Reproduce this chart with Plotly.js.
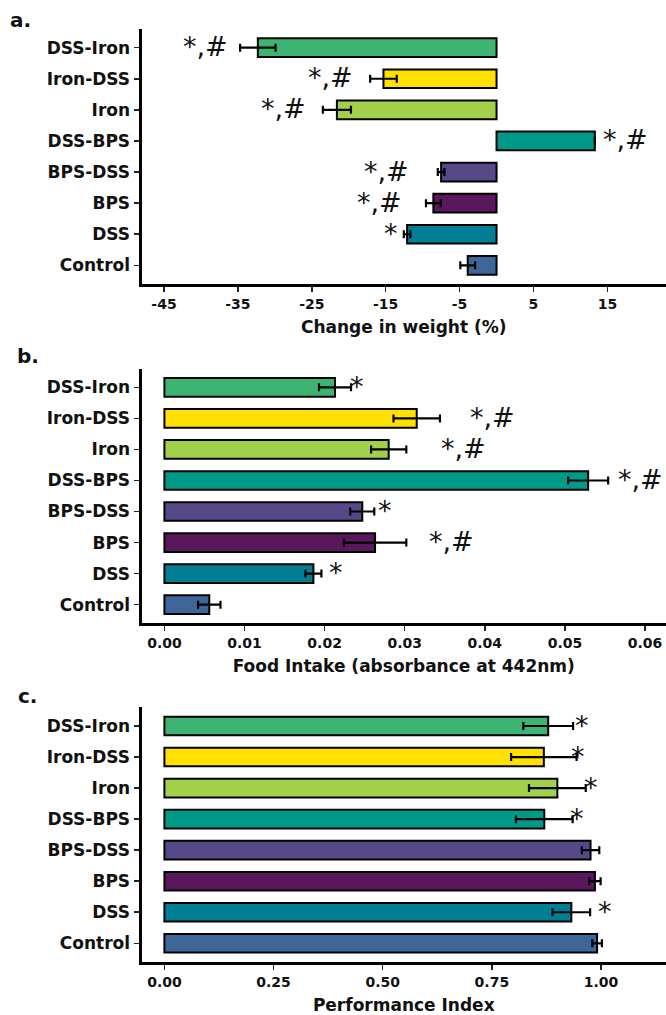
<!DOCTYPE html>
<html>
<head>
<meta charset="utf-8">
<script src="https://cdn.plot.ly/plotly-3.0.1.min.js"></script>
<style>
  html, body { margin: 0; padding: 0; background: #fff; }
  #chart { width: 666px; height: 1015px; }
</style>
</head>
<body>
<div id="chart"></div>
<script>
// ---- data (bottom to top) ----
const categories = ['Control', 'DSS', 'BPS', 'BPS-DSS', 'DSS-BPS', 'Iron', 'Iron-DSS', 'DSS-Iron'];
const barColors  = ['#3E6699', '#007F95', '#5A185C', '#574888', '#009A88', '#A3D04A', '#FFE000', '#3DB471'];

const weightChange = [-3.9, -12.1, -8.55, -7.5, 13.3, -21.6, -15.3, -32.3];
const weightSE     = [1.0, 0.45, 1.0, 0.45, 0, 1.9, 1.8, 2.4];
const weightSig    = ['', '*', '*,#', '*,#', '*,#', '*,#', '*,#', '*,#'];
const weightSigX   = [null, -14.3, -15.8, -14.9, 17.5, -28.8, -22.5, -39.4];

const foodIntake = [0.0056, 0.0186, 0.0263, 0.0247, 0.0529, 0.0280, 0.0315, 0.0213];
const foodSE     = [0.0014, 0.0010, 0.0039, 0.0015, 0.0025, 0.0022, 0.0029, 0.0020];
const foodSig    = ['', '*', '*,#', '*', '*,#', '*,#', '*,#', '*'];
const foodSigX   = [null, 0.0214, 0.0358, 0.0275, 0.0594, 0.0374, 0.0409, 0.0241];

const perfIndex = [0.991, 0.932, 0.986, 0.976, 0.870, 0.900, 0.869, 0.879];
const perfSE    = [0.011, 0.043, 0.013, 0.020, 0.065, 0.065, 0.075, 0.057];
const perfSig   = ['', '*', '', '', '*', '*', '*', '*'];
const perfSigX  = [null, 1.008, null, null, 0.946, 0.976, 0.947, 0.956];

const weightTicks = [-45, -35, -25, -15, -5, 5, 15];
const foodTicks   = [0, 0.01, 0.02, 0.03, 0.04, 0.05, 0.06];
const perfTicks   = [0, 0.25, 0.5, 0.75, 1.0];

const panelLabels = ['a.', 'b.', 'c.'];
const axisTitles  = ['Change in weight (%)', 'Food Intake (absorbance at 442nm)', 'Performance Index'];

// ---- layout helpers ----
const W = 666, H = 1015;
const FONT = 'DejaVu Sans';
const xDomain = [141.5 / W, 1];
const yDomains = [
  [1 - 284 / H, 1 - 29 / H],
  [1 - 623.3 / H, 1 - 368.7 / H],
  [1 - 961.9 / H, 1 - 707.4 / H]
];

function barTrace(vals, se, idx) {
  const s = idx === 0 ? '' : String(idx + 1);
  return {
    type: 'bar', orientation: 'h',
    x: vals, y: categories,
    xaxis: 'x' + s, yaxis: 'y' + s,
    width: 0.6,
    marker: { color: barColors, line: { color: '#000', width: 2 } },
    error_x: { type: 'data', array: se, visible: true, color: '#000', thickness: 2.2, width: 4 },
    hoverinfo: 'skip', showlegend: false
  };
}

const data = [
  barTrace(weightChange, weightSE, 0),
  barTrace(foodIntake, foodSE, 1),
  barTrace(perfIndex, perfSE, 2)
];

function xAxis(range, ticks, fmt, idx) {
  return {
    domain: xDomain, range: range, anchor: idx === 0 ? 'y' : 'y' + (idx + 1),
    tickmode: 'array', tickvals: ticks,
    ticktext: ticks.map(fmt),
    showgrid: false, zeroline: false,
    showline: true, linecolor: '#000', linewidth: 3,
    ticks: 'outside', ticklen: 5, tickwidth: 1.5, tickcolor: '#222',
    tickfont: { family: FONT, size: 14, color: '#111', weight: 'bold' },
    title: { text: axisTitles[idx], standoff: 11, font: { family: FONT, size: 17, color: '#111', weight: 'bold' } },
    fixedrange: true
  };
}
function yAxis(idx) {
  return {
    domain: yDomains[idx], anchor: idx === 0 ? 'x' : 'x' + (idx + 1),
    type: 'category', categoryorder: 'array', categoryarray: categories,
    range: [-0.6, 7.6],
    showgrid: false, zeroline: false,
    showline: true, linecolor: '#000', linewidth: 3,
    ticks: 'outside', ticklen: 5, tickwidth: 1.5, tickcolor: '#222',
    tickfont: { family: FONT, size: 17, color: '#111', weight: 'bold' },
    fixedrange: true
  };
}

const annotations = [];
function addSig(labels, xs, idx) {
  const s = idx === 0 ? '' : String(idx + 1);
  labels.forEach((t, i) => {
    if (!t) return;
    annotations.push({
      text: t, x: xs[i], y: categories[i], xref: 'x' + s, yref: 'y' + s,
      showarrow: false, xanchor: 'center', yanchor: 'middle', yshift: 1,
      font: { family: FONT, size: 27, color: '#111' }
    });
  });
}
addSig(weightSig, weightSigX, 0);
addSig(foodSig, foodSigX, 1);
addSig(perfSig, perfSigX, 2);

const labelPos = [[8, 20], [15, 356], [16, 696]];
panelLabels.forEach((t, i) => {
  annotations.push({
    text: t, xref: 'paper', yref: 'paper',
    x: labelPos[i][0] / W, y: 1 - labelPos[i][1] / H,
    xanchor: 'left', yanchor: 'middle', showarrow: false,
    font: { family: FONT, size: 20, color: '#111', weight: 'bold' }
  });
});

const layout = {
  width: W, height: H,
  margin: { l: 0, r: 0, t: 0, b: 0 },
  paper_bgcolor: '#fff', plot_bgcolor: '#fff',
  bargap: 0.4,
  xaxis:  xAxis([-48.04, 22.93], weightTicks, v => String(v), 0),
  xaxis2: xAxis([-0.00286, 0.06262], foodTicks, v => v.toFixed(2), 1),
  xaxis3: xAxis([-0.05245, 1.1488], perfTicks, v => v.toFixed(2), 2),
  yaxis: yAxis(0), yaxis2: yAxis(1), yaxis3: yAxis(2),
  annotations: annotations
};

Plotly.newPlot('chart', data, layout, { displayModeBar: false, staticPlot: true });
</script>
</body>
</html>
